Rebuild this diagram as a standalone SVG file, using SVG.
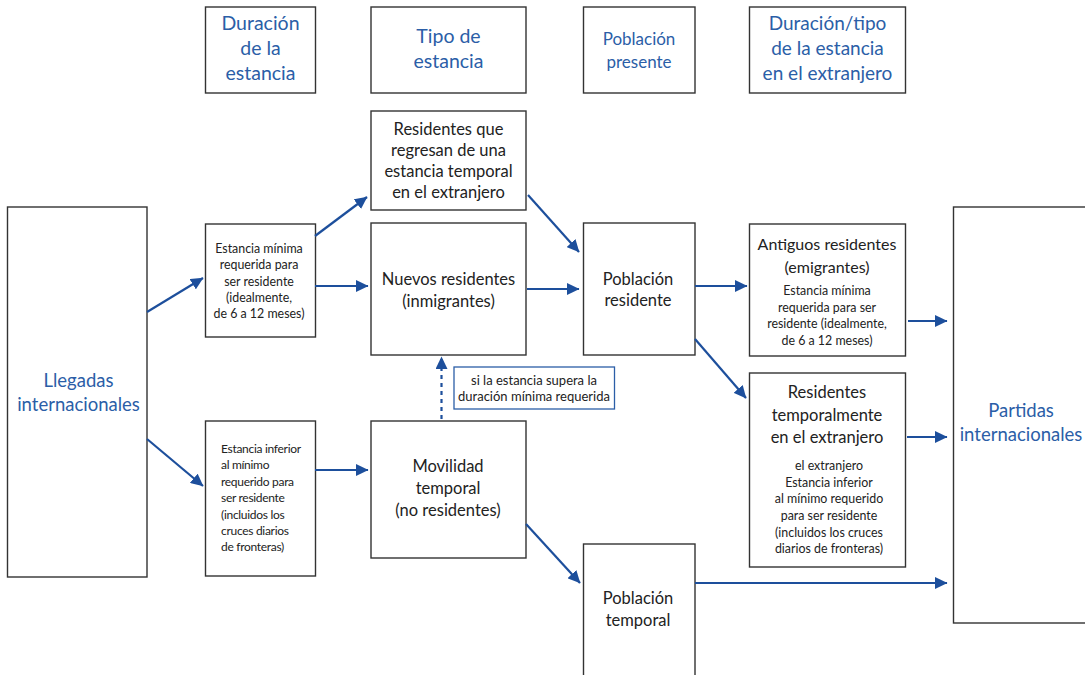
<svg xmlns="http://www.w3.org/2000/svg" width="1085" height="675" viewBox="0 0 1085 675">
<style>
.box{fill:#fff;stroke:#333;stroke-width:1.4}
.lbl{fill:#fff;stroke:#2b5ea7;stroke-width:1.3}
text{font-family:Lato,"Liberation Sans",sans-serif;text-anchor:middle}
.h{fill:#2b5ea7;font-size:19.5px}
.h2{fill:#2b5ea7;font-size:17px}
.b{fill:#222;font-size:16.5px}
.s{fill:#222;font-size:12.4px}
.c{fill:#222;font-size:12px;text-anchor:start;letter-spacing:-0.3px}
.big{fill:#2b5ea7;font-size:18.5px}
.a{stroke:#1d4f9c;stroke-width:2.2;fill:none;marker-end:url(#ah)}
.d{stroke:#1d4f9c;stroke-width:2.2;fill:none;stroke-dasharray:4 4;marker-end:url(#ah)}
</style>
<defs>
<marker id="ah" markerUnits="userSpaceOnUse" markerWidth="13" markerHeight="12" refX="12" refY="6" orient="auto">
<path d="M0,0 L12.5,6 L0,12 z" fill="#1d4f9c"/>
</marker>
</defs>
<rect width="1085" height="675" fill="#fff"/>

<g id="h1"><rect class="box" x="205.5" y="7" width="110" height="86"/>
<text class="h"><tspan x="260.5" y="30">Duración</tspan><tspan x="260.5" y="55">de la</tspan><tspan x="260.5" y="80">estancia</tspan></text></g>
<g id="h2"><rect class="box" x="371" y="7" width="155" height="86"/>
<text class="h"><tspan x="448.5" y="43">Tipo de</tspan><tspan x="448.5" y="68">estancia</tspan></text></g>
<g id="h3"><rect class="box" x="583.5" y="7" width="111.5" height="86"/>
<text class="h2"><tspan x="639" y="45">Población</tspan><tspan x="639" y="68">presente</tspan></text></g>
<g id="h4"><rect class="box" x="749.5" y="7" width="156" height="86"/>
<text class="h" style="font-size:19px"><tspan x="827.5" y="30">Duración/tipo</tspan><tspan x="827.5" y="55">de la estancia</tspan><tspan x="827.5" y="80">en el extranjero</tspan></text></g>

<g id="llegadas"><rect class="box" x="7.5" y="207" width="139.5" height="370"/>
<text class="big"><tspan x="78.5" y="387">Llegadas</tspan><tspan x="78.5" y="411">internacionales</tspan></text></g>

<g id="estmin"><rect class="box" x="205.5" y="224" width="110" height="113"/>
<text class="s"><tspan x="259" y="253">Estancia mínima</tspan><tspan x="259" y="269">requerida para</tspan><tspan x="259" y="286">ser residente</tspan><tspan x="259" y="302">(idealmente,</tspan><tspan x="259" y="318">de 6 a 12 meses)</tspan></text></g>

<g id="estinf"><rect class="box" x="205.5" y="421" width="110" height="155"/>
<text class="c"><tspan x="221" y="453">Estancia inferior</tspan><tspan x="221" y="469">al mínimo</tspan><tspan x="221" y="486">requerido para</tspan><tspan x="221" y="502">ser residente</tspan><tspan x="221" y="519">(incluidos los</tspan><tspan x="221" y="535">cruces diarios</tspan><tspan x="221" y="551">de fronteras)</tspan></text></g>

<g id="regresan"><rect class="box" x="371" y="111" width="155" height="99"/>
<text class="b"><tspan x="448.5" y="135">Residentes que</tspan><tspan x="448.5" y="156">regresan de una</tspan><tspan x="448.5" y="177">estancia temporal</tspan><tspan x="448.5" y="198">en el extranjero</tspan></text></g>

<g id="nuevos"><rect class="box" x="371" y="223" width="155" height="132"/>
<text class="b"><tspan x="448.5" y="285">Nuevos residentes</tspan><tspan x="448.5" y="307">(inmigrantes)</tspan></text></g>

<g id="movilidad"><rect class="box" x="371" y="421" width="155" height="137"/>
<text class="b"><tspan x="448" y="472">Movilidad</tspan><tspan x="448" y="494">temporal</tspan><tspan x="448" y="516">(no residentes)</tspan></text></g>

<g id="condicion"><rect class="lbl" x="454" y="367" width="160.5" height="42"/>
<text class="s" style="font-size:13px"><tspan x="534" y="385">si la estancia supera la</tspan><tspan x="534" y="401">duración mínima requerida</tspan></text></g>

<g id="pobres"><rect class="box" x="583.5" y="223" width="111.5" height="132"/>
<text class="b"><tspan x="638" y="285">Población</tspan><tspan x="638" y="306">residente</tspan></text></g>

<g id="pobtemp"><rect class="box" x="583.5" y="544" width="111.5" height="140"/>
<text class="b"><tspan x="638" y="604">Población</tspan><tspan x="638" y="626">temporal</tspan></text></g>

<g id="antiguos"><rect class="box" x="749.5" y="224" width="156" height="132"/>
<text class="b" style="font-size:16px"><tspan x="827" y="250">Antiguos residentes</tspan><tspan x="827" y="273">(emigrantes)</tspan></text>
<text class="s"><tspan x="827" y="295">Estancia mínima</tspan><tspan x="827" y="312">requerida para ser</tspan><tspan x="827" y="328">residente (idealmente,</tspan><tspan x="827" y="345">de 6 a 12 meses)</tspan></text></g>

<g id="restemp"><rect class="box" x="749.5" y="373" width="156" height="194"/>
<text class="b"><tspan x="827" y="398">Residentes</tspan><tspan x="827" y="421">temporalmente</tspan><tspan x="827" y="443">en el extranjero</tspan></text>
<text class="s"><tspan x="829" y="470">el extranjero</tspan><tspan x="829" y="487">Estancia inferior</tspan><tspan x="829" y="503">al mínimo requerido</tspan><tspan x="829" y="520">para ser residente</tspan><tspan x="829" y="537">(incluidos los cruces</tspan><tspan x="829" y="553">diarios de fronteras)</tspan></text></g>

<g id="partidas"><rect class="box" x="953.5" y="207" width="140" height="416"/>
<text class="big"><tspan x="1021" y="417">Partidas</tspan><tspan x="1021" y="441">internacionales</tspan></text></g>

<g id="connectors">
<line class="a" x1="147" y1="312" x2="203" y2="278"/>
<line class="a" x1="147" y1="439" x2="203" y2="486"/>
<line class="a" x1="315" y1="236" x2="367" y2="197"/>
<line class="a" x1="315" y1="286" x2="368" y2="286"/>
<line class="a" x1="315" y1="470" x2="368" y2="470"/>
<line class="a" x1="528" y1="195" x2="579" y2="252"/>
<line class="a" x1="527" y1="289" x2="579" y2="289"/>
<line class="a" x1="526" y1="524" x2="580" y2="583"/>
<line class="d" x1="441.5" y1="419" x2="441.5" y2="357"/>
<line class="a" x1="695" y1="286" x2="747" y2="286"/>
<line class="a" x1="695" y1="339" x2="746" y2="398"/>
<line class="a" x1="695" y1="583" x2="947" y2="583"/>
<line class="a" x1="908" y1="321" x2="947" y2="321"/>
<line class="a" x1="907" y1="437" x2="947" y2="437"/>
</g>
</svg>
